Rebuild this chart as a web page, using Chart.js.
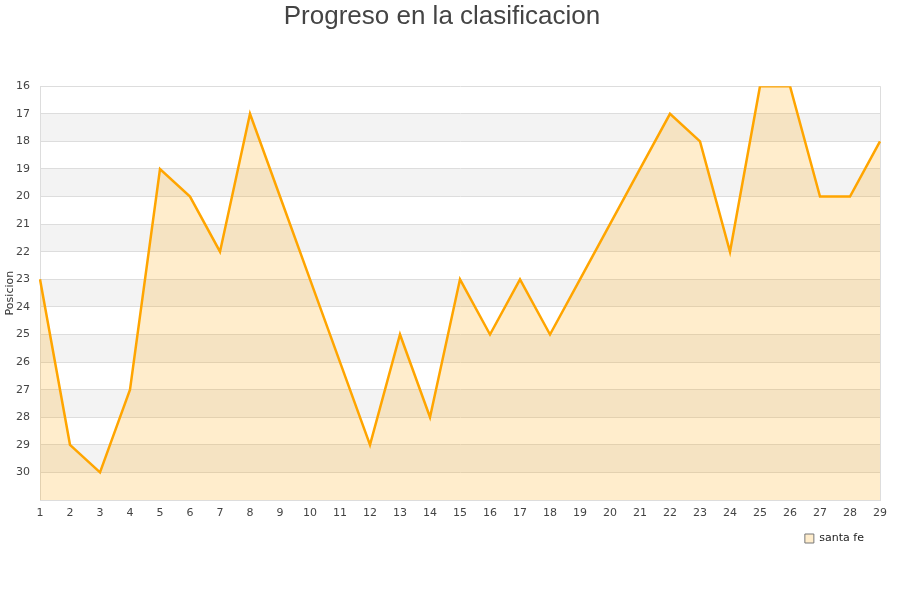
<!DOCTYPE html>
<html>
<head>
<meta charset="utf-8">
<script src="https://cdn.jsdelivr.net/npm/chart.js@4/dist/chart.umd.min.js"></script>
<style>
  html, body { margin: 0; padding: 0; background: #fff; }
  #grafico { display: block; }
</style>
</head>
<body>
<canvas id="grafico" width="900" height="600"></canvas>
<script>
// jornadas y posicion de santa fe
const jornadas = [1, 2, 3, 4, 5, 6, 7, 8, 9, 10, 11, 12, 13, 14, 15, 16, 17, 18, 19, 20, 21, 22, 23, 24, 25, 26, 27, 28, 29];
const posiciones = [23, 29, 30, 27, 19, 20, 22, 17, 20, 23, 26, 29, 25, 28, 23, 25, 23, 25, 23, 21, 19, 17, 18, 22, 16, 16, 20, 20, 18];
const equipo = 'santa fe';
const yMin = 16;
const yMax = 31;

// franjas grises alternas detras del grafico
const franjas = {
    id: 'franjas',
    beforeDraw(chart) {
        const { ctx, chartArea, scales } = chart;
        const y = scales.y;
        ctx.save();
        ctx.fillStyle = '#f3f3f3';
        for (let v = yMin + 1; v < yMax; v += 2) {
            const top = y.getPixelForValue(v);
            const bottom = y.getPixelForValue(v + 1);
            ctx.fillRect(chartArea.left, top, chartArea.right - chartArea.left, bottom - top);
        }
        ctx.strokeStyle = '#dddddd';
        ctx.lineWidth = 1;
        ctx.beginPath();
        ctx.moveTo(chartArea.right + 0.5, chartArea.top);
        ctx.lineTo(chartArea.right + 0.5, chartArea.bottom);
        ctx.stroke();
        ctx.restore();
    }
};

const ctx = document.getElementById('grafico').getContext('2d');
new Chart(ctx, {
    type: 'line',
    data: {
        labels: jornadas,
        datasets: [{
            label: equipo,
            data: posiciones,
            borderColor: '#ffa500',
            backgroundColor: 'rgba(255,165,0,0.2)',
            borderWidth: 2.5,
            pointRadius: 0,
            tension: 0,
            fill: { value: yMax }
        }]
    },
    options: {
        responsive: false,
        animation: false,
        layout: { padding: { left: 4, right: 20, top: 1, bottom: 46 } },
        plugins: {
            title: {
                display: true,
                text: 'Progreso en la clasificacion',
                color: '#444',
                font: { family: 'Liberation Sans', size: 26, weight: 'normal' },
                padding: { top: 0, bottom: 54 }
            },
            legend: {
                position: 'bottom',
                align: 'end',
                labels: {
                    boxWidth: 9,
                    boxHeight: 9,
                    padding: 16,
                    color: '#222',
                    font: { family: 'DejaVu Sans', size: 11 },
                    generateLabels(chart) {
                        const items = Chart.defaults.plugins.legend.labels.generateLabels(chart);
                        items.forEach(it => { it.strokeStyle = '#777'; it.lineWidth = 1; });
                        return items;
                    }
                }
            },
            tooltip: { enabled: false }
        },
        scales: {
            x: {
                offset: false,
                grid: { display: false, drawTicks: false },
                border: { color: '#dddddd' },
                ticks: {
                    color: '#444',
                    font: { family: 'DejaVu Sans', size: 11 },
                    padding: 7,
                    maxRotation: 0,
                    autoSkip: false
                },
                afterFit(scale) { scale.height = 17; }
            },
            y: {
                reverse: true,
                min: yMin,
                max: yMax,
                grid: { color: '#dddddd', drawTicks: false },
                border: { color: '#dddddd' },
                ticks: {
                    stepSize: 1,
                    color: '#444',
                    font: { family: 'DejaVu Sans', size: 11 },
                    padding: 10,
                    callback: v => (v === yMax ? '' : v)
                },
                title: {
                    display: true,
                    text: 'Posicion',
                    color: '#333',
                    font: { family: 'DejaVu Sans', size: 11 },
                    padding: 0
                },
                afterFit(scale) { scale.width = 36; }
            }
        }
    },
    plugins: [franjas]
});
</script>
</body>
</html>
